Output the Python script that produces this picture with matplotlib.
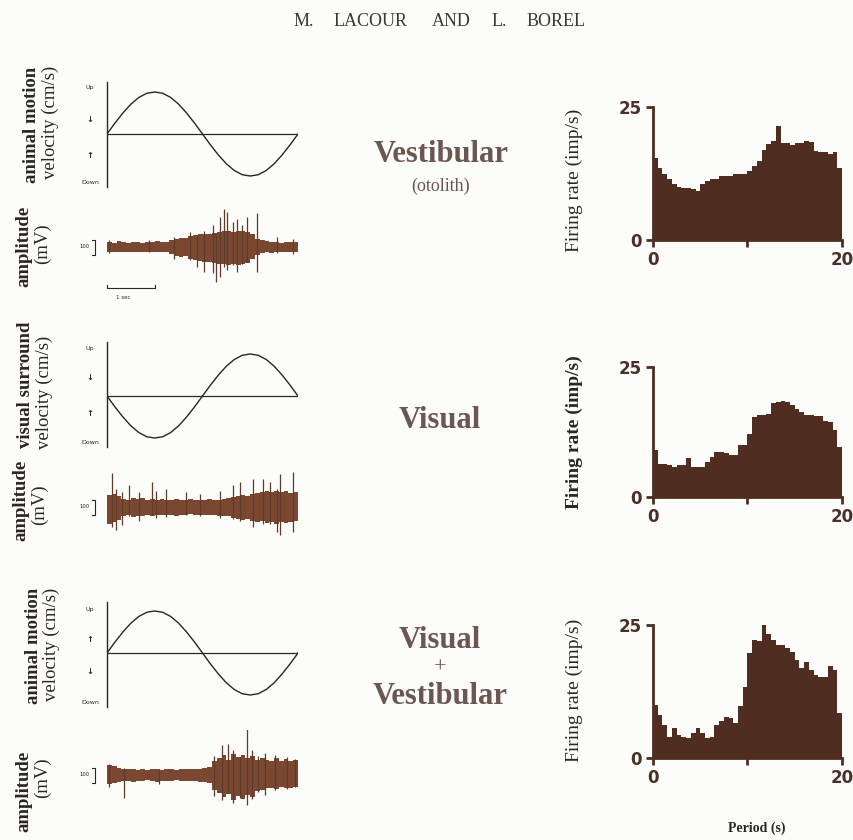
import matplotlib.pyplot as plt
import numpy as np

W, H = 854, 840
INK = '#2b2623'
BROWN = '#4f2e21'
TRACE = '#7a4831'
MID_TXT = '#6b5652'
SERIF = 'Liberation Serif'

# ---- stimulus velocity over one period (normalised)
vel_vestibular = [0, 0.26, 0.5, 0.71, 0.87, 0.97, 1.0, 0.97, 0.87, 0.71, 0.5, 0.26, 0,
                  -0.26, -0.5, -0.71, -0.87, -0.97, -1.0, -0.97, -0.87, -0.71, -0.5, -0.26, 0]
vel_visual = [0, -0.26, -0.5, -0.71, -0.87, -0.97, -1.0, -0.97, -0.87, -0.71, -0.5, -0.26, 0,
              0.26, 0.5, 0.71, 0.87, 0.97, 1.0, 0.97, 0.87, 0.71, 0.5, 0.26, 0]
vel_combined = [0, 0.26, 0.5, 0.71, 0.87, 0.97, 1.0, 0.97, 0.87, 0.71, 0.5, 0.26, 0,
                -0.26, -0.5, -0.71, -0.87, -0.97, -1.0, -0.97, -0.87, -0.71, -0.5, -0.26, 0]

# ---- EMG amplitude envelope (mV, 0.1 s bins over 4 s) and single spikes
amp_up_vest = [35, 30, 38, 33, 30, 36, 32, 30, 35, 33, 38, 31, 36,
               45, 55, 62, 58, 75, 80, 85, 90, 88, 95, 100, 105, 110, 100, 105, 110, 100,
               85, 55, 45, 38, 33, 36, 30, 35, 33, 36]
amp_dn_vest = [33, 36, 30, 35, 33, 31, 36, 33, 30, 35, 32, 36, 33, 48, 58, 65, 62, 80, 88, 95,
               100, 98, 105, 110, 115, 120, 112, 118, 115, 105, 80, 50, 42, 35, 38, 32, 35, 33, 36, 33]
spike_t_vest = [0.04, 0.88, 1.41, 1.73, 1.89, 2.04, 2.21, 2.29, 2.36, 2.44, 2.51, 2.63, 2.72,
                2.82, 2.93, 3.14, 3.56, 3.89]
spike_up_vest = [45, 45, 65, 100, 80, 105, 145, 90, 200, 255, 235, 165, 185, 145, 200, 225, 65, 55]
spike_dn_vest = [40, 30, 80, 85, 135, 165, 170, 235, 200, 135, 150, 120, 165, 110, 100, 165, 40, 45]

amp_up_vis = [80, 90, 75, 55, 48, 60, 52, 58, 50, 55, 47, 53, 50, 48, 55,
              50, 47, 52, 45, 50, 48, 53, 47, 50, 55, 60, 70, 75, 80, 72, 85,
              95, 100, 105, 98, 110, 100, 105, 95, 100]
amp_dn_vis = [110, 100, 85, 60, 55, 65, 58, 60, 52, 58, 55, 50, 55, 52, 58,
              50, 55, 48, 52, 50, 55, 50, 52, 58, 60, 62, 75, 80, 85, 78,
              90, 100, 95, 105, 100, 110, 98, 105, 100, 95]
spike_t_vis = [0.11, 0.19, 0.32, 0.46, 0.67, 0.95, 1.03, 1.24, 1.66, 1.94, 2.36, 2.63, 2.78,
               3.05, 3.26, 3.41, 3.56, 3.62, 3.89]
spike_up_vis = [225, 120, 100, 150, 100, 165, 105, 120, 100, 90, 105, 150, 165, 185, 185, 165, 120, 220, 235]
spike_dn_vis = [130, 150, 120, 60, 90, 50, 70, 65, 55, 60, 70, 80, 90, 130, 110, 110, 165, 185, 165]

amp_up_comb = [65, 60, 45, 40, 38, 42, 36, 40, 35, 38, 42, 36, 40, 38, 35, 40, 37, 42, 38, 40,
               45, 50, 90, 110, 130, 100, 140, 120, 135, 110, 125, 100, 115,
               100, 95, 110, 90, 105, 95, 100]
amp_dn_comb = [60, 55, 45, 42, 40, 45, 38, 42, 36, 40, 45, 38, 42, 40, 36, 42, 38, 40, 42, 45,
               50, 55, 100, 120, 150, 130, 165, 140, 160, 135, 150, 110, 100,
               90, 85, 95, 80, 90, 85, 80]
spike_t_comb = [0.04, 0.36, 1.09, 2.25, 2.40, 2.53, 2.63, 2.78, 2.93, 3.03, 3.16, 3.31, 3.52, 3.77, 3.94]
spike_up_comb = [75, 50, 40, 130, 200, 210, 165, 120, 345, 165, 130, 150, 135, 120, 110]
spike_dn_comb = [80, 150, 60, 140, 165, 120, 185, 150, 200, 160, 110, 130, 100, 90, 80]

# ---- firing rate histograms (imp/s, 0.5 s bins over the 20 s period)
rate_vestibular = [15.5, 13.5, 12.5, 11.5, 10.5, 10.0, 9.8, 9.8, 9.6, 9.3,
                   10.5, 11.0, 11.5, 11.5, 12.0, 12.0, 12.0, 12.5, 12.5, 12.5,
                   13.0, 14.0, 14.8, 17.0, 18.0, 18.7, 21.5, 18.3, 18.3, 17.8,
                   18.3, 18.3, 18.7, 18.5, 16.8, 16.5, 16.5, 16.2, 16.5, 13.6]
rate_visual = [9.0, 6.4, 6.4, 6.2, 5.8, 6.1, 6.1, 7.5, 5.8, 5.8,
               5.8, 6.7, 7.7, 8.7, 8.7, 8.5, 8.0, 8.0, 10.0, 10.0,
               12.2, 15.4, 15.7, 15.7, 16.0, 18.0, 18.3, 18.5, 18.3, 17.6,
               17.0, 16.3, 15.7, 15.7, 15.5, 15.5, 14.7, 14.5, 12.8, 9.6]
rate_combined = [10.0, 8.1, 6.2, 4.0, 5.6, 4.4, 4.0, 3.7, 4.7, 5.6,
                 4.7, 3.7, 4.0, 6.2, 6.9, 7.8, 7.5, 6.6, 9.7, 13.4,
                 19.7, 22.2, 21.9, 25.0, 23.4, 22.2, 21.2, 21.2, 20.6, 20.0,
                 18.4, 16.9, 18.1, 16.6, 15.6, 15.3, 15.3, 17.2, 16.5, 8.4]

header_words = ['M.', 'LACOUR', 'AND', 'L.', 'BOREL']

fig = plt.figure(figsize=(W / 100, H / 100), dpi=100)
fig.patch.set_facecolor('#fcfcfa')


def px_axes(x0, y0, x1, y1):
    # axes from pixel box (top-left origin)
    ax = fig.add_axes([x0 / W, 1 - y1 / H, (x1 - x0) / W, (y1 - y0) / H])
    ax.patch.set_visible(False)
    return ax


def ftext(x, y, s, **kw):
    fig.text(x / W, 1 - y / H, s, **kw)


def side_label(x, y, s, bold=False):
    ftext(x, y, s, rotation=90, ha='center', va='center', fontsize=13.5,
          fontweight='bold' if bold else 'normal', family=SERIF, color=INK)


def sine_panel(y_top, y_zero, y_bot, vel, marks):
    ax = px_axes(107, y_top, 298, y_bot)
    ax.set_xlim(0, 1)
    ax.set_ylim(-(y_bot - y_zero) / 42, (y_zero - y_top) / 42)
    ax.plot(np.linspace(0, 1, len(vel)), vel, color=INK, lw=1.0)
    ax.axhline(0, color=INK, lw=0.9)
    for s in ['top', 'right', 'bottom']:
        ax.spines[s].set_visible(False)
    ax.spines['left'].set_color(INK)
    ax.spines['left'].set_linewidth(1.0)
    ax.set_xticks([])
    ax.set_yticks([])
    for y, s, size in marks:
        ftext(90, y, s, ha='center', va='center', fontsize=size, color=INK,
              family='DejaVu Sans', fontweight='bold' if len(s) == 1 else 'normal')


def trace_panel(y_mid, up, dn, st, sup, sdn):
    ax = px_axes(107, y_mid - 45, 298, y_mid + 45)
    mv = 100 / 15
    ax.set_xlim(0, 4)
    ax.set_ylim(-45 * mv, 45 * mv)
    edges = np.linspace(0, 4, len(up) + 1)
    ax.fill_between(edges, -np.append(dn, dn[-1]), np.append(up, up[-1]),
                    step='post', color=TRACE, lw=0)
    ax.vlines(st, -np.array(sdn), sup, color='#5e3a2a', lw=0.9)
    ax.axis('off')
    # 100 mV calibration bracket
    ax.plot([-0.31, -0.26, -0.26, -0.31], [50, 50, -50, -50], color=INK, lw=0.8,
            clip_on=False)
    ax.text(-0.36, 0, '100', ha='right', va='center', fontsize=3.8, color=INK)
    return ax


def hist_panel(y_top, y_bot, rate):
    ax = px_axes(653, y_top, 842, y_bot)
    ax.bar(np.arange(len(rate)) * 0.5, rate, width=0.5, align='edge', color=BROWN, lw=0)
    ax.set_xlim(0, 20)
    ax.set_ylim(0, 25)
    for s in ['top', 'right']:
        ax.spines[s].set_visible(False)
    for s in ['left', 'bottom']:
        ax.spines[s].set_color(BROWN)
        ax.spines[s].set_linewidth(2)
    ax.set_yticks([0, 25])
    ax.set_yticklabels(['0', '25'], fontweight='bold', family='DejaVu Sans')
    ax.set_xticks([0, 10, 20])
    ax.set_xticklabels(['0', '', '20'], fontweight='bold', family='DejaVu Sans')
    ax.tick_params(length=5, width=2, color=BROWN, labelsize=12, labelcolor='#4a3028', pad=3)


for word, xc in zip(header_words, [304, 371, 451, 499, 556]):
    ftext(xc, 22, word, ha='center', va='center', fontsize=13, family=SERIF, color='#3a3a3a')

# --- row 1: vestibular
sine_panel(82, 134, 187, vel_vestibular,
           [(88, 'Up', 4.5), (119, '\u2193', 6), (155, '\u2191', 6), (183, 'Down', 4.5)])
ax = trace_panel(247, amp_up_vest, amp_dn_vest, spike_t_vest, spike_up_vest, spike_dn_vest)
ax.plot([0, 0, 1, 1], [-255, -273, -273, -255], color=INK, lw=0.8, clip_on=False)
ax.text(0.34, -335, '1 sec', ha='center', va='center', fontsize=4, color=INK)
hist_panel(107, 240, rate_vestibular)

side_label(32, 125, 'animal motion', bold=True)
side_label(50, 122, 'velocity (cm/s)')
side_label(24, 246, 'amplitude', bold=True)
side_label(42, 244, '(mV)')
ftext(441, 155, 'Vestibular', ha='center', va='center', fontsize=22, fontweight='bold',
      family=SERIF, color=MID_TXT)
ftext(441, 186, '(otolith)', ha='center', va='center', fontsize=13, family=SERIF, color=MID_TXT)
ftext(574, 180, 'Firing rate (imp/s)', rotation=90, ha='center', va='center', fontsize=14,
      family=SERIF, color=INK)

# --- row 2: visual
sine_panel(342, 396, 447, vel_visual,
           [(348, 'Up', 4.5), (378, '\u2193', 6), (413, '\u2191', 6), (442, 'Down', 4.5)])
trace_panel(507, amp_up_vis, amp_dn_vis, spike_t_vis, spike_up_vis, spike_dn_vis)
hist_panel(367, 497, rate_visual)

side_label(26, 385, 'visual surround', bold=True)
side_label(44, 392, 'velocity (cm/s)')
side_label(21, 500, 'amplitude', bold=True)
side_label(39, 505, '(mV)')
ftext(440, 420, 'Visual', ha='center', va='center', fontsize=22, fontweight='bold',
      family=SERIF, color=MID_TXT)
ftext(574, 432, 'Firing rate (imp/s)', rotation=90, ha='center', va='center', fontsize=14,
      fontweight='bold', family=SERIF, color=INK)

# --- row 3: visual + vestibular
sine_panel(602, 653, 707, vel_combined,
           [(610, 'Up', 4.5), (640, '\u2191', 6), (672, '\u2193', 6), (703, 'Down', 4.5)])
trace_panel(775, amp_up_comb, amp_dn_comb, spike_t_comb, spike_up_comb, spike_dn_comb)
hist_panel(625, 758, rate_combined)

side_label(33, 646, 'animal motion', bold=True)
side_label(51, 644, 'velocity (cm/s)')
side_label(24, 791, 'amplitude', bold=True)
side_label(42, 778, '(mV)')
ftext(440, 640, 'Visual', ha='center', va='center', fontsize=22, fontweight='bold',
      family=SERIF, color=MID_TXT)
ftext(440, 668, '+', ha='center', va='center', fontsize=16, family=SERIF, color=MID_TXT)
ftext(440, 696, 'Vestibular', ha='center', va='center', fontsize=22, fontweight='bold',
      family=SERIF, color=MID_TXT)
ftext(574, 690, 'Firing rate (imp/s)', rotation=90, ha='center', va='center', fontsize=14,
      family=SERIF, color=INK)
ftext(757, 828, 'Period (s)', ha='center', va='center', fontsize=10, fontweight='bold',
      family=SERIF, color=INK)

fig.savefig('out.png', dpi=100, facecolor=fig.get_facecolor())
